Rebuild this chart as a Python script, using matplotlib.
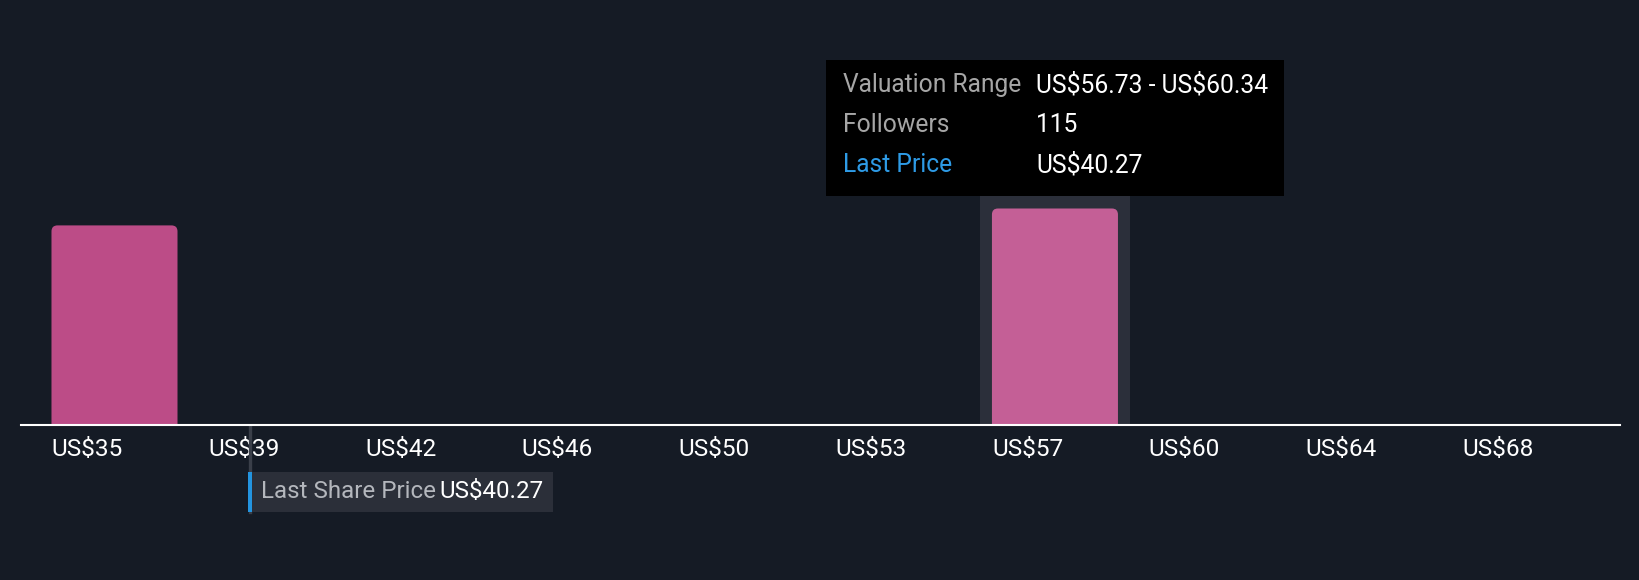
import numpy as np
import matplotlib
matplotlib.use("Agg")
import matplotlib.pyplot as plt
from matplotlib.patches import FancyBboxPatch, Rectangle
import matplotlib.transforms as mtransforms

# valuation bins (US$), bin width read from the tooltip range
bin_start = 35.07
bin_width = 3.61
tick_labels = ["US$35", "US$39", "US$42", "US$46", "US$50",
               "US$53", "US$57", "US$60", "US$64", "US$68"]
bar_bins = [0, 6]
bar_counts = [106, 115]
bar_colors = ["#bc4c87", "#c45f96"]
hover_bin = 6
last_price = 40.27
last_price_pos = 0.865  # where the marker sits, in bin units
tooltip_rows = [("Valuation Range", "US$56.73 - US$60.34"),
                ("Followers", "115"),
                ("Last Price", "US$40.27")]

bg = "#151b25"
plt.rcParams['font.family'] = ['Roboto', 'DejaVu Sans']
plt.rcParams['text.parse_math'] = False

fig = plt.figure(figsize=(16.4, 5.8), dpi=100, facecolor=bg)
W, H = 1640, 580
ax = fig.add_axes([21 / W, 155.5 / H, 1599 / W, 424.5 / H])
ax.set_facecolor(bg)
ax.set_xlim(-0.5965, 9.605)
ymax = 226
ax.set_ylim(0, ymax)

fig_y = mtransforms.blended_transform_factory(ax.transData, fig.transFigure)

# hover band behind the highlighted bin
ax.add_patch(Rectangle((hover_bin - 0.478, 0), 0.956, ymax * 0.54, transform=ax.transData,
                       facecolor="#2b2f3a", edgecolor="none", zorder=1))

# bars with rounded tops
px_x = 1599 / (9.605 + 0.5965)
px_y = 424.5 / ymax
r = 6 / px_x
aspect = (6 / px_y) / r
bw = 0.804
for b, c, col in zip(bar_bins, bar_counts, bar_colors):
    ax.add_patch(FancyBboxPatch((b - bw / 2, -10), bw, c + 10,
                                boxstyle=f"round,pad=0,rounding_size={r}",
                                mutation_aspect=aspect, facecolor=col,
                                edgecolor="none", zorder=2))

for s in ["top", "left", "right"]:
    ax.spines[s].set_visible(False)
ax.spines["bottom"].set_color("white")
ax.spines["bottom"].set_linewidth(1.5)
ax.spines["bottom"].set_zorder(5)
ax.set_yticks([])
ax.set_xticks([])

# tick labels, left-aligned with each bar
for i, lab in enumerate(tick_labels):
    ax.text(i - bw / 2, (580 - 449) / H, lab, transform=fig_y, color="white",
            fontsize=17.6, ha="left", va="center", clip_on=False)

# last share price marker
ax.plot([last_price_pos, last_price_pos], [(580 - 425.5) / H, (580 - 512) / H],
        transform=fig_y, color="#3a3f49", lw=2.4, clip_on=False, zorder=3)
ax.add_patch(Rectangle((last_price_pos - 0.003, (580 - 512) / H), 1.935, 40 / H,
                       transform=fig_y, facecolor="#2b2f39", edgecolor="none",
                       clip_on=False, zorder=3))
ax.add_patch(Rectangle((last_price_pos - 0.012, (580 - 512) / H), 4 / px_x, 40 / H,
                       transform=fig_y, facecolor="#2394df", edgecolor="none",
                       clip_on=False, zorder=4))
ax.text(last_price_pos + 11 / px_x, (580 - 492) / H, "Last Share Price",
        transform=fig_y, color="#b4b7bd", fontsize=17.4, ha="left", va="center",
        clip_on=False, zorder=5)
ax.text(last_price_pos + 189 / px_x, (580 - 492) / H, f"US${last_price:.2f}",
        transform=fig_y, color="white", fontsize=17.4, ha="left", va="center",
        clip_on=False, zorder=5)

# tooltip
fig.patches.append(Rectangle((826 / W, (580 - 196) / H), 458 / W, 136 / H,
                             transform=fig.transFigure, facecolor="black",
                             edgecolor="none", zorder=6))
for k, (lab, val) in enumerate(tooltip_rows):
    yy = (580 - (85 + 40 * k)) / H
    fig.text(843 / W, yy, lab, color="#2e9be6" if lab == "Last Price" else "#a6a6a6",
             fontsize=17.7, ha="left", va="center", zorder=7)
    fig.text(1036 / W, yy, val, color="white", fontsize=17.7, ha="left", va="center", zorder=7)

fig.savefig("out.png", dpi=100, facecolor=bg)
